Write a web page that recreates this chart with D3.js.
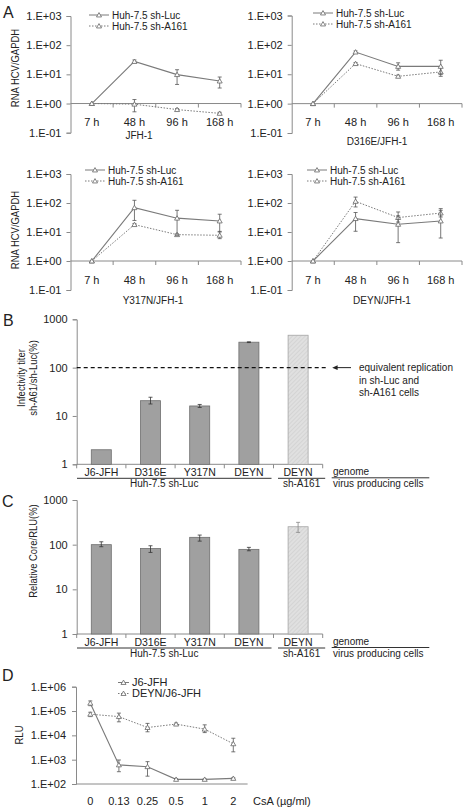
<!DOCTYPE html>
<html><head><meta charset="utf-8">
<script src="https://cdn.jsdelivr.net/npm/d3@7"></script>
<style>
body{margin:0;background:#fff;}
svg{font-family:"Liberation Sans",Arial,sans-serif;}
</style></head><body>
<svg id="c" width="467" height="811"></svg>
<script>
// ---------------- DATA ----------------
const timeLabels = ["7 h", "48 h", "96 h", "168 h"];
const seriesNamesA = ["Huh-7.5 sh-Luc", "Huh-7.5 sh-A161"];
const aTitles = ["JFH-1", "D316E/JFH-1", "Y317N/JFH-1", "DEYN/JFH-1"];
const aTicks = [0.1, 1, 10, 100, 1000];
const aTickLabels = ["1.E-01", "1.E+00", "1.E+01", "1.E+02", "1.E+03"];

const jfhLuc = [1, 27.7, 9.8, 5.9], jfhLucLo = [1, 24.5, 4.5, 3.4], jfhLucHi = [1, 31, 14.4, 8.1];
const jfhA161 = [1, 0.95, 0.62, 0.46], jfhA161Lo = [1, 0.52, 0.58, 0.43], jfhA161Hi = [1, 1.37, 0.67, 0.5];
const d316Luc = [1, 57, 18.5, 18.5], d316LucLo = [1, 52, 13.8, 10], d316LucHi = [1, 62, 24.5, 30];
const d316A161 = [1, 23, 8.5, 12], d316A161Lo = [1, 21, 7.8, 8.5], d316A161Hi = [1, 25, 9.3, 17.8];
const y317Luc = [1, 69, 30, 24], y317LucLo = [1, 25, 7.7, 10], y317LucHi = [1, 124, 56, 41];
const y317A161 = [1, 18, 8.1, 7.7], y317A161Lo = [1, 16.5, 7.6, 5.9], y317A161Hi = [1, 19.5, 8.6, 10.5];
const deynLuc = [1, 29, 18.4, 24], deynLucLo = [1, 10.6, 4.3, 6.2], deynLucHi = [1, 47, 36, 56];
const deynA161 = [1, 114, 31.5, 45], deynA161Lo = [1, 73, 22, 33], deynA161Hi = [1, 160, 49, 64];

const genomes = ["J6-JFH", "D316E", "Y317N", "DEYN", "DEYN"];
const producerGroups = ["Huh-7.5 sh-Luc", "sh-A161"];
const producerOfBar = [0, 0, 0, 0, 1];
const barTicks = [1, 10, 100, 1000];
const barTickLabels = ["1", "10", "100", "1000"];

const titer = [2, 20.7, 16.1, 336, 468];
const titerLo = [2, 17.7, 15, 330, 468];
const titerHi = [2, 24.4, 17.3, 342, 468];
const equivLevel = 100;
const equivText = ["equivalent replication", "in sh-Luc and", "sh-A161 cells"];

const core = [100, 82, 146, 78.5, 252];
const coreLo = [90, 67, 120, 73, 188];
const coreHi = [116, 94.5, 164, 87, 316];

const doses = ["0", "0.13", "0.25", "0.5", "1", "2"];
const seriesNamesD = ["J6-JFH", "DEYN/J6-JFH"];
const dTicks = [1e2, 1e3, 1e4, 1e5, 1e6];
const dTickLabels = ["1.E+02", "1.E+03", "1.E+04", "1.E+05", "1.E+06"];
const rluJ6 = [2.1e5, 610, 515, 155, 155, 170];
const rluJ6Lo = [1.66e5, 320, 210, 145, 148, 160];
const rluJ6Hi = [2.6e5, 970, 830, 165, 162, 180];
const rluDeyn = [7.4e4, 5.9e4, 2.1e4, 2.9e4, 1.8e4, 4.5e3];
const rluDeynLo = [5.9e4, 3.6e4, 1.4e4, 2.6e4, 1.3e4, 2.1e3];
const rluDeynHi = [8.9e4, 8.2e4, 3.1e4, 3.2e4, 2.7e4, 7.6e3];

// ---------------- STYLE ----------------
const TXT = "#222", AX = "#8a8a8a", LN = "#7a7a7a", ERR = "#555";
const svg = d3.select("#c");
const defs = svg.append("defs");
const pat = defs.append("pattern").attr("id", "hatch").attr("patternUnits", "userSpaceOnUse")
  .attr("width", 3).attr("height", 3).attr("patternTransform", "rotate(45)");
pat.append("rect").attr("width", 3).attr("height", 3).attr("fill", "#e0e0e0");
pat.append("line").attr("x1", 0).attr("y1", 0).attr("x2", 0).attr("y2", 3).attr("stroke", "#c9c9c9").attr("stroke-width", 1);
defs.append("marker").attr("id", "arrow").attr("viewBox", "0 0 10 10").attr("refX", 1).attr("refY", 5)
  .attr("markerWidth", 6).attr("markerHeight", 6).attr("orient", "auto-start-reverse")
  .append("path").attr("d", "M0,1 L9,5 L0,9 z").attr("fill", "#222");

function panelLetter(t, x, y) {
  svg.append("text").attr("x", x).attr("y", y).attr("font-size", 16).attr("fill", TXT).text(t);
}
function yTitle(lines, x, y, dx) {
  lines.forEach((l, i) => {
    svg.append("text").attr("transform", `translate(${x + i * dx},${y}) rotate(-90) scale(0.86,1)`)
      .attr("text-anchor", "middle").attr("dy", "0.35em").attr("font-size", 11).attr("fill", TXT).text(l);
  });
}
function styleAxis(g) {
  g.selectAll(".domain").attr("stroke", AX);
  g.selectAll(".tick line").attr("stroke", AX);
  g.selectAll(".tick text").attr("fill", TXT).attr("font-family", '"Liberation Sans",Arial,sans-serif');
}
const tri = d3.symbol(d3.symbolTriangle, 11);

function drawSeries(g, x, y, vals, lo, hi, dashed) {
  const pts = vals.map((v, i) => [x(i), y(v)]);
  g.append("path").attr("d", d3.line()(pts)).attr("fill", "none").attr("stroke", LN)
    .attr("stroke-width", dashed ? 1 : 1.1).attr("stroke-dasharray", dashed ? "1.5,1.5" : null);
  vals.forEach((v, i) => {
    if (hi[i] !== lo[i]) {
      const cx = x(i);
      g.append("line").attr("x1", cx).attr("x2", cx).attr("y1", y(lo[i])).attr("y2", y(hi[i])).attr("stroke", ERR).attr("stroke-width", 0.8);
      [lo[i], hi[i]].forEach(e => g.append("line").attr("x1", cx - 2).attr("x2", cx + 2).attr("y1", y(e)).attr("y2", y(e)).attr("stroke", ERR).attr("stroke-width", 0.8));
    }
  });
  vals.forEach((v, i) => {
    g.append("path").attr("d", tri()).attr("transform", `translate(${x(i)},${y(v) + 0.5})`)
      .attr("fill", "#fff").attr("stroke", "#666").attr("stroke-width", 0.8);
  });
}
function legend(g, lx, ly, names, fs, len) {
  names.forEach((n, i) => {
    const yy = ly + i * 11;
    g.append("line").attr("x1", lx).attr("x2", lx + len).attr("y1", yy).attr("y2", yy).attr("stroke", LN)
      .attr("stroke-dasharray", i === 1 ? "1.5,1.5" : null);
    g.append("path").attr("d", tri()).attr("transform", `translate(${lx + len / 2},${yy + 0.5})`).attr("fill", "#fff").attr("stroke", "#666").attr("stroke-width", 0.8);
    g.append("text").attr("x", lx + len + 3).attr("y", yy).attr("dy", "0.35em").attr("font-size", fs).attr("fill", TXT).text(n);
  });
}

// ---------------- PANEL A ----------------
const aData = [
  [jfhLuc, jfhLucLo, jfhLucHi, jfhA161, jfhA161Lo, jfhA161Hi],
  [d316Luc, d316LucLo, d316LucHi, d316A161, d316A161Lo, d316A161Hi],
  [y317Luc, y317LucLo, y317LucHi, y317A161, y317A161Lo, y317A161Hi],
  [deynLuc, deynLucLo, deynLucHi, deynA161, deynA161Lo, deynA161Hi]
];
const aLayout = [
  { x0: 70.5, x1: 241, yT: 16, yB: 132.7, lx: 89, ly: 15, sx: 139, sy: 135.5 },
  { x0: 291.7, x1: 462, yT: 15.5, yB: 133, lx: 313, ly: 13, sx: 377, sy: 141.5 },
  { x0: 70.5, x1: 241, yT: 174, yB: 290, lx: 85, ly: 170, sx: 153, sy: 300 },
  { x0: 291.7, x1: 462, yT: 174, yB: 290, lx: 307, ly: 170, sx: 382, sy: 300 }
];
aLayout.forEach((L, p) => {
  const g = svg.append("g");
  const y = d3.scaleLog().domain([0.1, 1000]).range([L.yB, L.yT]);
  const xb = d3.scaleBand().domain(d3.range(4)).range([L.x0, L.x1]);
  const x = i => xb(i) + xb.bandwidth() / 2;
  const ya = g.append("g").attr("transform", `translate(${L.x0},0)`)
    .call(d3.axisLeft(y).tickValues(aTicks).tickFormat((d, i) => aTickLabels[i]).tickSize(4).tickPadding(5));
  ya.attr("font-size", 11); styleAxis(ya);
  const y1 = y(1);
  g.append("line").attr("x1", L.x0).attr("x2", L.x1).attr("y1", y1).attr("y2", y1).attr("stroke", AX);
  d3.range(1, 5).forEach(i => {
    const bx = L.x0 + i * xb.step();
    g.append("line").attr("x1", bx).attr("x2", bx).attr("y1", y1).attr("y2", y1 + 4).attr("stroke", AX);
  });
  timeLabels.forEach((t, i) => g.append("text").attr("x", x(i)).attr("y", y1 + 19).attr("dy", "0.35em")
    .attr("text-anchor", "middle").attr("font-size", 11).attr("fill", TXT).text(t));
  g.append("text").attr("x", L.sx).attr("y", L.sy).attr("dy", "0.35em").attr("text-anchor", "middle")
    .attr("font-size", 10).attr("fill", TXT).text(aTitles[p]);
  const D = aData[p];
  drawSeries(g, x, y, D[3], D[4], D[5], true);
  drawSeries(g, x, y, D[0], D[1], D[2], false);
  legend(g, L.lx, L.ly, seriesNamesA, 10, 20);
});
yTitle(["RNA HCV/GAPDH"], 15, 68, 0);
yTitle(["RNA HCV/GAPDH"], 15, 230, 0);
panelLetter("A", 3, 18);

// ---------------- PANELS B, C ----------------
function barPanel(L, vals, lo, hi, withEquiv) {
  const g = svg.append("g");
  const y = d3.scaleLog().domain([1, 1000]).range([L.yB, L.yT]);
  const xb = d3.scaleBand().domain(d3.range(5)).range([L.x0, L.x1]).paddingInner(0.593).paddingOuter(0.2965);
  const ya = g.append("g").attr("transform", `translate(${L.x0},0)`)
    .call(d3.axisLeft(y).tickValues(barTicks).tickFormat((d, i) => barTickLabels[i]).tickSize(4).tickPadding(5));
  ya.attr("font-size", 11); styleAxis(ya);
  g.append("line").attr("x1", L.x0).attr("x2", L.x1).attr("y1", L.yB).attr("y2", L.yB).attr("stroke", AX);
  d3.range(0, 6).forEach(i => {
    const bx = L.x0 + i * xb.step();
    g.append("line").attr("x1", bx).attr("x2", bx).attr("y1", L.yB).attr("y2", L.yB + 4).attr("stroke", AX);
  });
  vals.forEach((v, i) => {
    const light = producerOfBar[i] === 1;
    g.append("rect").attr("x", xb(i)).attr("width", xb.bandwidth()).attr("y", y(v)).attr("height", L.yB - y(v))
      .attr("fill", light ? "url(#hatch)" : "#a0a0a0").attr("stroke", light ? "#a5a5a5" : "#6e6e6e").attr("stroke-width", 0.8);
    if (hi[i] !== lo[i]) {
      const cx = xb(i) + xb.bandwidth() / 2;
      const ec = light ? "#888" : "#333";
      g.append("line").attr("x1", cx).attr("x2", cx).attr("y1", y(lo[i])).attr("y2", y(hi[i])).attr("stroke", ec).attr("stroke-width", 0.8);
      [lo[i], hi[i]].forEach(e => g.append("line").attr("x1", cx - 2).attr("x2", cx + 2).attr("y1", y(e)).attr("y2", y(e)).attr("stroke", ec).attr("stroke-width", 0.8));
    }
  });
  genomes.forEach((t, i) => g.append("text").attr("x", xb(i) + xb.bandwidth() / 2).attr("y", L.yB + 8.5).attr("dy", "0.35em")
    .attr("text-anchor", "middle").attr("font-size", 10.5).attr("fill", TXT).text(t));
  const lineY = L.yB + 14;
  const groups = [[L.x0 + 0.3, L.x0 + 4 * xb.step() - 2], [L.x0 + 4 * xb.step() + 4.5, L.x1 + 2.5]];
  groups.forEach((gr, k) => {
    g.append("line").attr("x1", gr[0]).attr("x2", gr[1]).attr("y1", lineY).attr("y2", lineY).attr("stroke", "#333").attr("stroke-width", 1);
    g.append("text").attr("x", (gr[0] + gr[1]) / 2 + (k === 0 ? -10 : 0)).attr("y", lineY + 5.5).attr("dy", "0.35em")
      .attr("text-anchor", "middle").attr("font-size", 10).attr("fill", TXT).text(producerGroups[k]);
  });
  g.append("line").attr("x1", 331.7).attr("x2", 429.3).attr("y1", lineY - 0.5).attr("y2", lineY - 0.5).attr("stroke", "#333");
  g.append("text").attr("x", 333).attr("y", L.yB + 7).attr("dy", "0.35em").attr("font-size", 10).attr("fill", TXT).text("genome");
  g.append("text").attr("x", 333).attr("y", lineY + 5.5).attr("dy", "0.35em").attr("font-size", 10).attr("fill", TXT).text("virus producing cells");
  if (withEquiv) {
    const ye = y(equivLevel);
    g.append("line").attr("x1", L.x0).attr("x2", 327).attr("y1", ye).attr("y2", ye).attr("stroke", "#111")
      .attr("stroke-width", 1.1).attr("stroke-dasharray", "4,3");
    g.append("line").attr("x1", 351).attr("x2", 337).attr("y1", ye).attr("y2", ye).attr("stroke", "#222")
      .attr("stroke-width", 1).attr("marker-end", "url(#arrow)");
    equivText.forEach((t, i) => g.append("text").attr("x", 359).attr("y", ye + i * 12.5).attr("dy", "0.35em")
      .attr("font-size", 10).attr("fill", TXT).text(t));
  }
}
barPanel({ x0: 76.7, x1: 322.7, yT: 319.3, yB: 464.3 }, titer, titerLo, titerHi, true);
yTitle(["Infectivity titer", "sh-A61/sh-Luc(%)"], 21, 378, 12);
panelLetter("B", 3, 326);
barPanel({ x0: 76.7, x1: 322.7, yT: 500, yB: 634 }, core, coreLo, coreHi, false);
yTitle(["Relative Core/RLU(%)"], 33, 551, 0);
panelLetter("C", 2, 507);

// ---------------- PANEL D ----------------
(function () {
  const L = { x0: 76, x1: 247.6, yT: 686.7, yB: 784 };
  const g = svg.append("g");
  const y = d3.scaleLog().domain([1e2, 1e6]).range([L.yB, L.yT]);
  const xb = d3.scaleBand().domain(d3.range(6)).range([L.x0, L.x1]);
  const x = i => xb(i) + xb.bandwidth() / 2;
  const ya = g.append("g").attr("transform", `translate(${L.x0},0)`)
    .call(d3.axisLeft(y).tickValues(dTicks).tickFormat((d, i) => dTickLabels[i]).tickSize(4).tickPadding(6));
  ya.attr("font-size", 11); styleAxis(ya);
  g.append("line").attr("x1", L.x0).attr("x2", L.x1).attr("y1", L.yB).attr("y2", L.yB).attr("stroke", AX);
  doses.forEach((t, i) => g.append("text").attr("x", x(i)).attr("y", L.yB + 17.5).attr("dy", "0.35em")
    .attr("text-anchor", "middle").attr("font-size", 11).attr("fill", TXT).text(t));
  g.append("text").attr("x", 253).attr("y", L.yB + 17.5).attr("dy", "0.35em").attr("font-size", 11).attr("fill", TXT).text("CsA (µg/ml)");
  drawSeries(g, x, y, rluDeyn, rluDeynLo, rluDeynHi, true);
  drawSeries(g, x, y, rluJ6, rluJ6Lo, rluJ6Hi, false);
  legend(g, 118, 682.5, seriesNamesD, 11, 11);
})();
yTitle(["RLU"], 19, 735, 0);
panelLetter("D", 2, 681);
</script>
</body></html>
